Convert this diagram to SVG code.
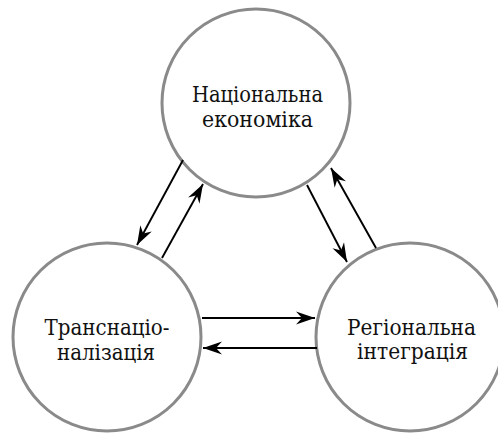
<svg xmlns="http://www.w3.org/2000/svg" width="498" height="436" viewBox="0 0 498 436">
  <style>
    .node { fill: #ffffff; stroke: #8a8a8a; stroke-width: 3; }
    .link { stroke: #000000; stroke-width: 1.9; fill: none; marker-end: url(#head); }
    text { font-family: 'DejaVu Serif', serif; font-size: 22px; fill: #111111; text-anchor: middle; }
  </style>
  <defs>
    <marker id="head" viewBox="-20 -8 21 16" refX="0" refY="0" markerWidth="21" markerHeight="16" markerUnits="userSpaceOnUse" orient="auto">
      <path d="M0,0 L-19,-6.5 L-13,0 L-19,6.5 Z" fill="#000000"/>
    </marker>
  </defs>
  <rect width="498" height="436" fill="#ffffff"/>

  <g id="national-economy">
    <circle class="node" cx="256" cy="103" r="94"/>
    <text x="257.5" y="102" textLength="131" lengthAdjust="spacingAndGlyphs">Національна</text>
    <text x="257.5" y="127" textLength="111" lengthAdjust="spacingAndGlyphs">економіка</text>
  </g>

  <g id="transnationalization">
    <circle class="node" cx="107" cy="337" r="94"/>
    <text x="107" y="335" textLength="125" lengthAdjust="spacingAndGlyphs">Транснаціо-</text>
    <text x="106" y="360" textLength="98" lengthAdjust="spacingAndGlyphs">налізація</text>
  </g>

  <g id="regional-integration">
    <circle class="node" cx="410" cy="337" r="94"/>
    <text x="411.5" y="335" textLength="129" lengthAdjust="spacingAndGlyphs">Регіональна</text>
    <text x="412.5" y="359" textLength="111" lengthAdjust="spacingAndGlyphs">інтеграція</text>
  </g>

  <g id="connectors">
    <line class="link" x1="183" y1="160" x2="137" y2="245"/>
    <line class="link" x1="162" y1="258" x2="203" y2="184"/>
    <line class="link" x1="307" y1="185" x2="347" y2="262"/>
    <line class="link" x1="376" y1="248" x2="331" y2="168"/>
    <line class="link" x1="202" y1="318" x2="315" y2="318"/>
    <line class="link" x1="317" y1="348" x2="203" y2="348"/>
  </g>
</svg>
